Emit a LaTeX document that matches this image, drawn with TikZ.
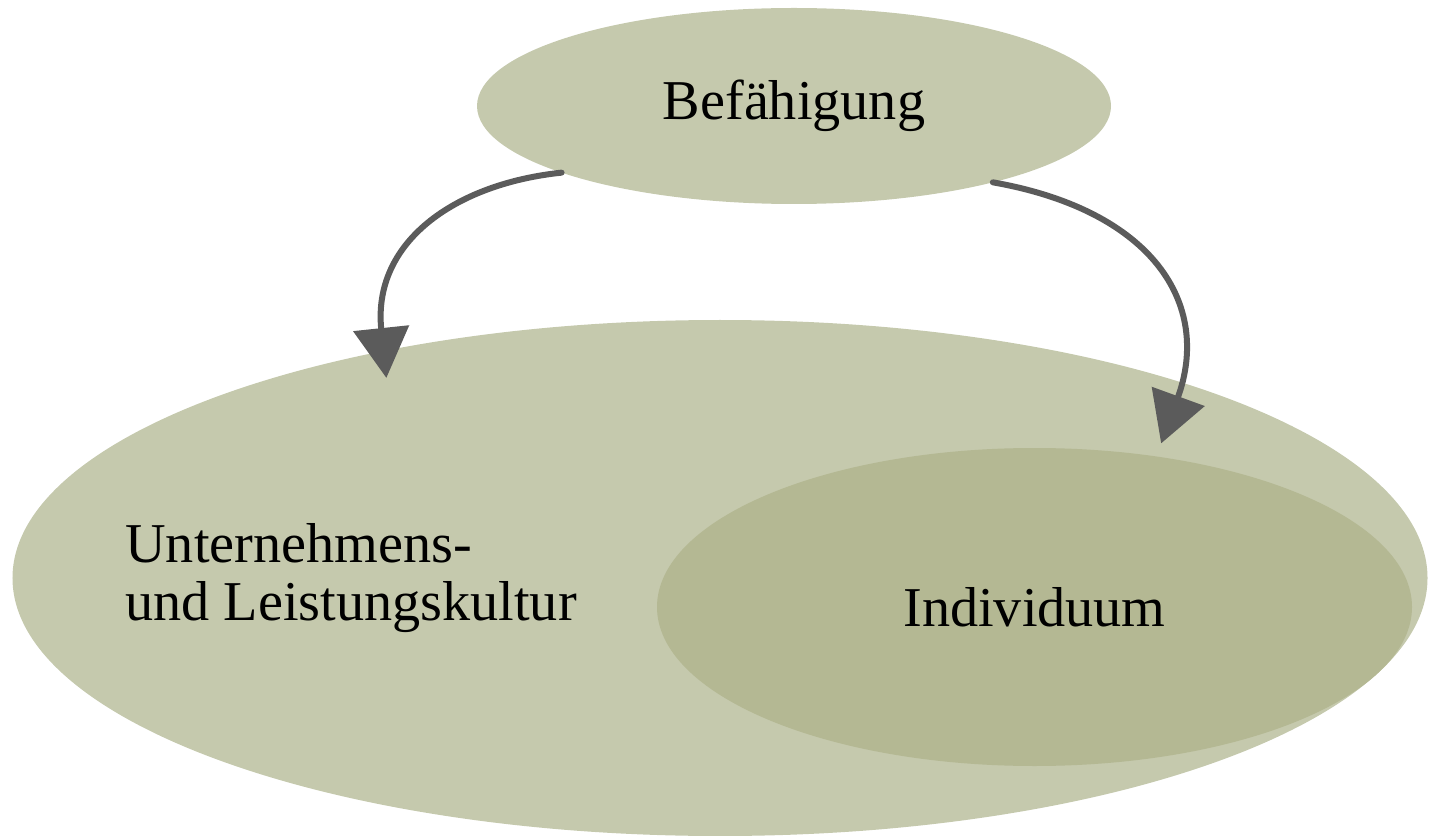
\documentclass[tikz,border=0pt]{standalone}
\usepackage{fontspec}
\setmainfont{Liberation Serif}
\usetikzlibrary{shapes.geometric,arrows.meta}
\definecolor{olivnhat}{HTML}{C5C9AD}
\definecolor{olivdam}{HTML}{B4B893}
\definecolor{muiten}{HTML}{5B5B5B}
\begin{document}
\begin{tikzpicture}[line join=round,line cap=round,
	font=\fontsize{32}{33}\selectfont,
	vung/.style={ellipse,fill=olivnhat,inner sep=0pt,outer sep=0pt},
	muiten/.style={draw=muiten,line width=0.12cm,-{Triangle[length=1cm,width=1.1cm]},looseness=1.15}]
	\useasboundingbox (0,0) rectangle (28.58,-16.72);
	% ve elip lon
	\node[vung,minimum width=28.3cm,minimum height=10.32cm] (kultur) at (14.4,-11.56) {};
	% ve elip ben trong
	\node[vung,fill=olivdam,minimum width=15.1cm,minimum height=6.36cm] (indiv) at (20.69,-12.14) {Individuum};
	% ve elip tren
	\node[vung,minimum width=12.68cm,minimum height=3.92cm] (befa) at (15.88,-2.12) {Befähigung};
	% chu ben trai
	\node[anchor=west,align=left,inner sep=0pt] (kulturtext) at (2.5,-11.56) {Unternehmens-\\und Leistungskultur};
	% ve cac mui ten
	\draw[muiten,shorten >=-0.54cm,looseness=1.1] (befa.196) to[out=186,in=96] (kultur.146);
	\draw[muiten,shorten >=0.28cm,looseness=1.3] (befa.339) to[out=-10,in=70] (indiv.51);
\end{tikzpicture}
\end{document}
